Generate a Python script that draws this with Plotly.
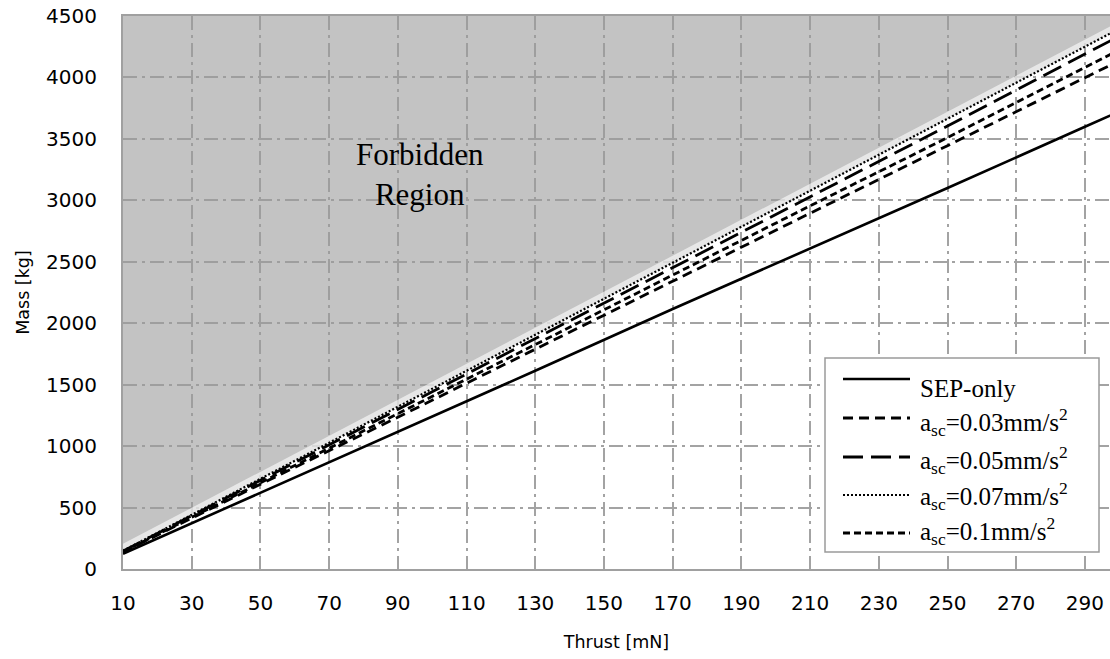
import plotly.graph_objects as go

# ---- data ----
thrust = [10, 50, 90, 130, 170, 210, 250, 290, 300]
mass_sep = [124, 620, 1117, 1613, 2116, 2606, 3100, 3599, 3723]
mass_a003 = [138, 690, 1235, 1790, 2344, 2895, 3445, 3998, 4136]
mass_a005 = [145, 722, 1298, 1878, 2457, 3033, 3605, 4191, 4336]
mass_a007 = [148, 733, 1318, 1905, 2490, 3078, 3664, 4250, 4397]
mass_a010 = [140, 702, 1260, 1826, 2392, 2955, 3510, 4083, 4224]

series_names = ["SEP-only",
                "a<sub>sc</sub>=0.03mm/s<sup>2</sup>",
                "a<sub>sc</sub>=0.05mm/s<sup>2</sup>",
                "a<sub>sc</sub>=0.07mm/s<sup>2</sup>",
                "a<sub>sc</sub>=0.1mm/s<sup>2</sup>"]

y_max = 4500
x_range = [10, 297.3]
x_ticks = list(range(10, 300, 20))
y_ticks = list(range(0, 4501, 500))

region_label = "Forbidden<br>Region"
region_pos = (96.4, 3214)

# ---- styles ----
grid_dash = "14px,5px,3px,5px"
grid_color = "#a3a3a3"
line_styles = [("solid", 2.6), ("10px,6px", 2.8), ("20px,8px", 2.8),
               ("2px,2px", 2.2), ("7px,4px", 2.8)]

fig = go.Figure()

# Forbidden region: above the upper-most curve up to the axis top
fig.add_trace(go.Scatter(
    x=thrust + thrust[::-1],
    y=mass_a007 + [y_max] * len(thrust),
    fill="toself", fillcolor="rgba(155,155,155,0.6)",
    line=dict(width=0), mode="lines", hoverinfo="skip", showlegend=False))

# soft white edge along the boundary
fig.add_trace(go.Scatter(
    x=thrust, y=[v + 25 for v in mass_a007], mode="lines",
    line=dict(color="rgba(255,255,255,0.6)", width=7),
    hoverinfo="skip", showlegend=False))

all_series = [mass_sep, mass_a003, mass_a005, mass_a007, mass_a010]
for name, ys, (dash, w) in zip(series_names, all_series, line_styles):
    fig.add_trace(go.Scatter(
        x=thrust, y=ys, mode="lines", name=name, showlegend=False,
        line=dict(color="black", width=w, dash=dash)))

fig.add_annotation(
    x=region_pos[0], y=region_pos[1], text=region_label, showarrow=False,
    font=dict(family="Liberation Serif", size=31, color="black"),
    xanchor="center", yanchor="middle", align="center")

# ---- legend drawn as a boxed key (paper coordinates) ----
PL, PW, PB, PH = 123, 987, 569, 553
def px_x(v):
    return (v - PL) / PW
def px_y(v):
    return (PB - v) / PH

fig.add_shape(type="rect", xref="paper", yref="paper",
              x0=px_x(825), x1=px_x(1099), y0=px_y(552), y1=px_y(358),
              line=dict(color="#9a9a9a", width=1.5), fillcolor="white",
              layer="above")
line_y = [379, 418, 457, 495, 533]
text_y = [388, 422, 460, 496, 531]
for name, (dash, w), ly, ty in zip(series_names, line_styles, line_y, text_y):
    fig.add_shape(type="line", xref="paper", yref="paper",
                  x0=px_x(843), x1=px_x(910), y0=px_y(ly), y1=px_y(ly),
                  line=dict(color="black", width=w, dash=dash), layer="above")
    fig.add_annotation(xref="paper", yref="paper", x=px_x(918), y=px_y(ty),
                       text=name, showarrow=False, xanchor="left",
                       yanchor="middle",
                       font=dict(family="Liberation Serif", size=25,
                                 color="black"))

fig.update_layout(
    width=1110, height=659,
    margin=dict(l=123, r=0, t=16, b=90),
    paper_bgcolor="white", plot_bgcolor="white",
    font=dict(family="DejaVu Sans", size=18, color="black"),
    showlegend=False,
)

fig.update_xaxes(
    range=x_range, tickmode="array", tickvals=x_ticks,
    ticktext=[str(t) for t in x_ticks],
    showgrid=True, gridcolor=grid_color, gridwidth=1.5, griddash=grid_dash,
    showline=True, linecolor="#a0a0a0", linewidth=2, mirror=True,
    ticks="outside", ticklen=15, tickcolor="rgba(0,0,0,0)",
    zeroline=False,
    title=dict(text="Thrust [mN]", font=dict(size=17.5), standoff=22),
    tickfont=dict(size=20))

fig.update_yaxes(
    range=[0, y_max], tickmode="array", tickvals=y_ticks,
    showgrid=True, gridcolor=grid_color, gridwidth=1.5, griddash=grid_dash,
    showline=True, linecolor="#a0a0a0", linewidth=2,
    ticks="outside", ticklen=20, tickcolor="rgba(0,0,0,0)",
    zeroline=False,
    title=dict(text="Mass [kg]", font=dict(size=17.5), standoff=12),
    tickfont=dict(size=20))

fig.write_html("out.html")
